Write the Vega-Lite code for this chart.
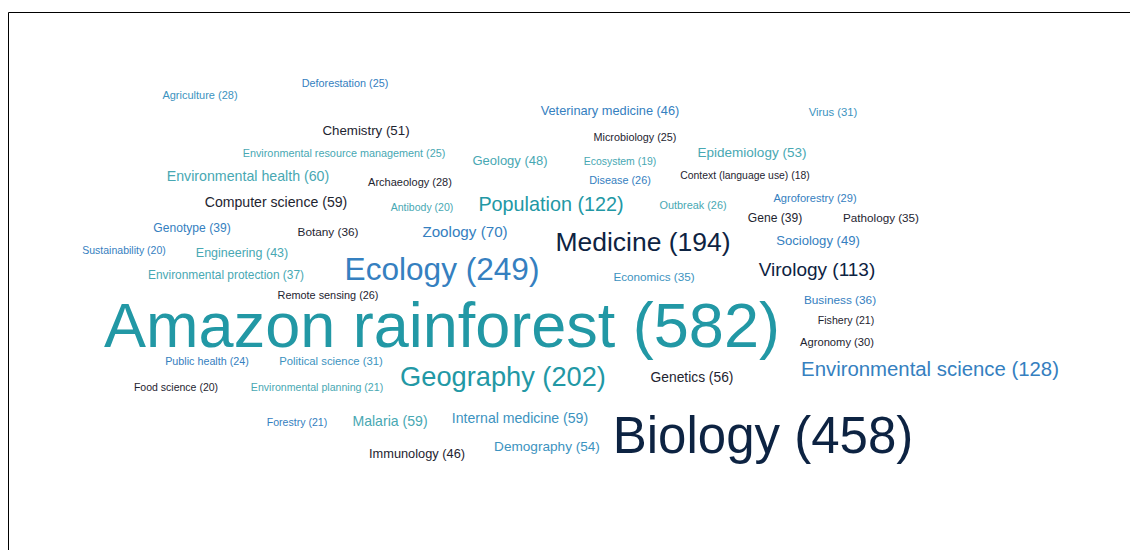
{
  "$schema": "https://vega.github.io/schema/vega-lite/v6.json",
  "width": 1130,
  "height": 550,
  "autosize": {"type": "fit", "contains": "padding"},
  "padding": {"left": 8, "top": 12, "right": -2, "bottom": -2},
  "background": "white",
  "view": {"stroke": "black", "strokeWidth": 1, "fill": "white"},
  "data": {
    "values": [
      {"label": "Amazon rainforest (582)", "count": 582, "x": 442, "y": 327, "group": "teal"},
      {"label": "Biology (458)", "count": 458, "x": 763, "y": 437, "group": "navy"},
      {"label": "Ecology (249)", "count": 249, "x": 442, "y": 270, "group": "blue"},
      {"label": "Geography (202)", "count": 202, "x": 503, "y": 377, "group": "teal"},
      {"label": "Medicine (194)", "count": 194, "x": 643, "y": 242, "group": "navy"},
      {"label": "Environmental science (128)", "count": 128, "x": 930, "y": 369, "group": "blue"},
      {"label": "Population (122)", "count": 122, "x": 551, "y": 204, "group": "teal"},
      {"label": "Virology (113)", "count": 113, "x": 817, "y": 269, "group": "navy"},
      {"label": "Zoology (70)", "count": 70, "x": 465, "y": 231, "group": "blue"},
      {"label": "Environmental health (60)", "count": 60, "x": 248, "y": 176, "group": "lightteal"},
      {"label": "Computer science (59)", "count": 59, "x": 276, "y": 202, "group": "dark"},
      {"label": "Malaria (59)", "count": 59, "x": 390, "y": 421, "group": "lightteal"},
      {"label": "Internal medicine (59)", "count": 59, "x": 520, "y": 418, "group": "steel"},
      {"label": "Genetics (56)", "count": 56, "x": 692, "y": 377, "group": "dark"},
      {"label": "Demography (54)", "count": 54, "x": 547, "y": 446, "group": "steel"},
      {"label": "Epidemiology (53)", "count": 53, "x": 752, "y": 152, "group": "lightteal"},
      {"label": "Chemistry (51)", "count": 51, "x": 366, "y": 130, "group": "dark"},
      {"label": "Sociology (49)", "count": 49, "x": 818, "y": 240, "group": "blue"},
      {"label": "Geology (48)", "count": 48, "x": 510, "y": 160, "group": "lightteal"},
      {"label": "Veterinary medicine (46)", "count": 46, "x": 610, "y": 110, "group": "blue"},
      {"label": "Immunology (46)", "count": 46, "x": 417, "y": 453, "group": "dark"},
      {"label": "Engineering (43)", "count": 43, "x": 242, "y": 252, "group": "lightteal"},
      {"label": "Genotype (39)", "count": 39, "x": 192, "y": 227, "group": "blue"},
      {"label": "Gene (39)", "count": 39, "x": 775, "y": 217, "group": "dark"},
      {"label": "Environmental protection (37)", "count": 37, "x": 226, "y": 274, "group": "lightteal"},
      {"label": "Botany (36)", "count": 36, "x": 328, "y": 231, "group": "dark"},
      {"label": "Business (36)", "count": 36, "x": 840, "y": 299, "group": "blue"},
      {"label": "Pathology (35)", "count": 35, "x": 881, "y": 217, "group": "dark"},
      {"label": "Economics (35)", "count": 35, "x": 654, "y": 276, "group": "steel"},
      {"label": "Virus (31)", "count": 31, "x": 833, "y": 112, "group": "steel"},
      {"label": "Political science (31)", "count": 31, "x": 331, "y": 361, "group": "steel"},
      {"label": "Agronomy (30)", "count": 30, "x": 837, "y": 342, "group": "dark"},
      {"label": "Agroforestry (29)", "count": 29, "x": 815, "y": 198, "group": "blue"},
      {"label": "Agriculture (28)", "count": 28, "x": 200, "y": 95, "group": "steel"},
      {"label": "Archaeology (28)", "count": 28, "x": 410, "y": 182, "group": "dark"},
      {"label": "Remote sensing (26)", "count": 26, "x": 328, "y": 295, "group": "dark"},
      {"label": "Disease (26)", "count": 26, "x": 620, "y": 180, "group": "blue"},
      {"label": "Outbreak (26)", "count": 26, "x": 693, "y": 205, "group": "lightteal"},
      {"label": "Deforestation (25)", "count": 25, "x": 345, "y": 83, "group": "blue"},
      {"label": "Environmental resource management (25)", "count": 25, "x": 344, "y": 153, "group": "lightteal"},
      {"label": "Microbiology (25)", "count": 25, "x": 635, "y": 137, "group": "dark"},
      {"label": "Public health (24)", "count": 24, "x": 207, "y": 361, "group": "blue"},
      {"label": "Forestry (21)", "count": 21, "x": 297, "y": 422, "group": "blue"},
      {"label": "Fishery (21)", "count": 21, "x": 846, "y": 320, "group": "dark"},
      {"label": "Environmental planning (21)", "count": 21, "x": 317, "y": 387, "group": "lightteal"},
      {"label": "Sustainability (20)", "count": 20, "x": 124, "y": 250, "group": "blue"},
      {"label": "Antibody (20)", "count": 20, "x": 422, "y": 207, "group": "lightteal"},
      {"label": "Food science (20)", "count": 20, "x": 176, "y": 387, "group": "dark"},
      {"label": "Ecosystem (19)", "count": 19, "x": 620, "y": 161, "group": "lightteal"},
      {"label": "Context (language use) (18)", "count": 18, "x": 745, "y": 175, "group": "dark"}
    ]
  },
  "mark": {"type": "text", "align": "center", "baseline": "middle", "font": "Liberation Sans"},
  "encoding": {
    "x": {"field": "x", "type": "quantitative", "axis": null, "scale": {"domain": [8, 1132], "nice": false, "zero": false}},
    "y": {"field": "y", "type": "quantitative", "axis": null, "scale": {"domain": [11, 551], "nice": false, "zero": false, "reverse": true}},
    "text": {"field": "label", "type": "nominal"},
    "size": {"field": "count", "type": "quantitative", "legend": null, "scale": {"type": "linear", "domain": [18, 28, 70, 122, 458, 582], "range": [10.4, 11, 15.2, 19.8, 51, 63], "zero": false}},
    "color": {"field": "group", "type": "nominal", "legend": null, "scale": {"domain": ["teal", "lightteal", "steel", "blue", "navy", "dark"], "range": ["#2298a5", "#48a8b3", "#3c93c0", "#3580c0", "#0d2342", "#1e2430"]}}
  }
}
